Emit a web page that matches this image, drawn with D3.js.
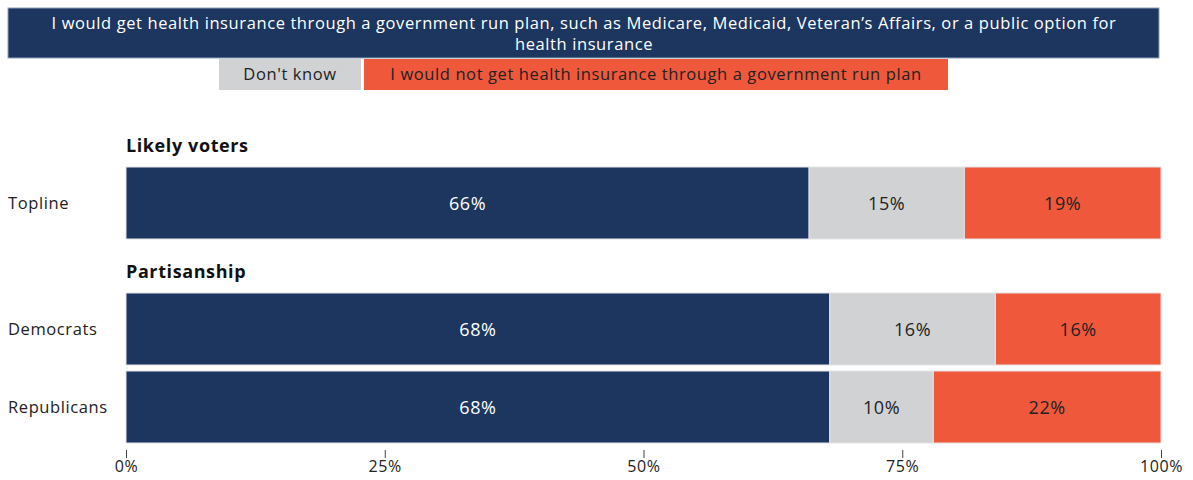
<!DOCTYPE html>
<html>
<head>
<meta charset="utf-8">
<script src="https://cdn.jsdelivr.net/npm/d3@7"></script>
<style>
  body { margin: 0; background: #fff; }
  text { font-family: "Open Sans", sans-serif; letter-spacing: 0.6px; }
</style>
</head>
<body>
<div id="chart"></div>
<script>
// data
var seriesNames = ["I would get health insurance through a government run plan, such as Medicare, Medicaid, Veteran\u2019s Affairs, or a public option for health insurance",
  "Don't know",
  "I would not get health insurance through a government run plan"];
var legendLines = ["I would get health insurance through a government run plan, such as Medicare, Medicaid, Veteran\u2019s Affairs, or a public option for",
  "health insurance"];
var groups = ["Likely voters", "Partisanship"];
var rowNames = ["Topline", "Democrats", "Republicans"];
var rowGroups = ["Likely voters", "Partisanship", "Partisanship"];
var wouldGet = [66, 68, 68];
var dontKnow = [15, 16, 10];
var wouldNot = [19, 16, 22];
var tickValues = [0, 25, 50, 75, 100];

var colors = ["#1c365f", "#d1d2d4", "#f0583c"];
var textColors = ["#ffffff", "#222222", "#222222"];

var width = 1193;
var height = 480;

var svg = d3.select("#chart").
append("svg").
attr("width", width).
attr("height", height);

// legend
var legend = svg.append("g");
legend.append("rect").
attr("x", 8).attr("y", 8).attr("width", 1151).attr("height", 50).
attr("fill", colors[0]).attr("stroke", "#8fa0b8").attr("stroke-width", 1);
legend.selectAll(".legend-line").
data(legendLines).
enter().
append("text").
attr("class", "legend-line").
attr("x", 584).
attr("y", function (d, i) {return 29 + i * 21;}).
attr("text-anchor", "middle").
attr("fill", "#fff").attr("font-size", 16.5).
text(function (d) {return d;});

legend.append("rect").
attr("x", 219).attr("y", 59).attr("width", 142).attr("height", 31).
attr("fill", colors[1]);
legend.append("text").
attr("x", 290).attr("y", 80).attr("text-anchor", "middle").
attr("fill", "#222").attr("font-size", 16.5).
text(seriesNames[1]);
legend.append("rect").
attr("x", 364).attr("y", 59).attr("width", 584).attr("height", 31).
attr("fill", colors[2]);
legend.append("text").
attr("x", 656).attr("y", 80).attr("text-anchor", "middle").
attr("fill", "#222").attr("font-size", 16.5).
text(seriesNames[2]);

// scales
var x = d3.scaleLinear().domain([0, 100]).range([126, 1161]);

var barHeight = 72;
var rowStep = 78;
var headerStep = 48;
var top0 = 119;

// row y positions, with a header before each new group
var rowY = [];
var headerY = {};
var cursor = top0;
var lastGroup = null;
for (var i = 0; i < rowNames.length; i++) {
  if (rowGroups[i] !== lastGroup) {
    headerY[rowGroups[i]] = cursor;
    cursor += headerStep;
    lastGroup = rowGroups[i];
  }
  rowY[i] = cursor;
  cursor += rowStep;
}

var rows = rowNames.map(function (name, i) {
  return { name: name, values: [wouldGet[i], dontKnow[i], wouldNot[i]], y: rowY[i] };
});

// group headers
svg.selectAll(".group-title").
data(groups).
enter().
append("text").
attr("class", "group-title").
attr("x", x(0)).
attr("y", function (d) {return headerY[d] + 33;}).
attr("font-size", 18).
attr("font-weight", "bold").
attr("letter-spacing", "0.7px").
attr("fill", "#111").
text(function (d) {return d;});

// row labels
svg.selectAll(".row-label").
data(rows).
enter().
append("text").
attr("class", "row-label").
attr("x", 8).
attr("y", function (d) {return d.y + barHeight / 2 + 6;}).
attr("font-size", 16.5).
attr("fill", "#222").
text(function (d) {return d.name;});

// stacked segments
var stack = d3.stack().keys([0, 1, 2]);
var stacked = stack(rows.map(function (r) {return r.values;}));

var layer = svg.selectAll(".layer").
data(stacked).
enter().
append("g").
attr("class", "layer").
attr("fill", function (d, i) {return colors[i];});

layer.selectAll("rect").
data(function (d) {return d;}).
enter().
append("rect").
attr("x", function (d) {return x(d[0]);}).
attr("y", function (d, i) {return rows[i].y;}).
attr("width", function (d) {return x(d[1]) - x(d[0]);}).
attr("height", barHeight).
attr("stroke", "#e4e4e6").
attr("stroke-width", 1);

layer.selectAll("text").
data(function (d, i) {return d.map(function (s, j) {return { s: s, k: i, row: j };});}).
enter().
append("text").
attr("x", function (d) {return (x(d.s[0]) + x(d.s[1])) / 2;}).
attr("y", function (d) {return rows[d.row].y + barHeight / 2 + 7;}).
attr("text-anchor", "middle").
attr("font-size", 18).
attr("letter-spacing", "0.8px").
attr("fill", function (d) {return textColors[d.k];}).
text(function (d) {return d.s[1] - d.s[0] + "%";});

// axis
var xAxis = d3.axisBottom(x).
tickValues(tickValues).
tickSize(8).
tickPadding(2).
tickFormat(function (d) {return d + "%";});

var axisG = svg.append("g").
attr("transform", "translate(0, 450)").
call(xAxis);
axisG.select(".domain").remove();
axisG.selectAll(".tick line").attr("stroke", "#444");
axisG.selectAll(".tick text").
attr("font-family", "\"Open Sans\", sans-serif").
attr("font-size", 16).
attr("fill", "#222").
attr("dy", "0.75em");
</script>
</body>
</html>
